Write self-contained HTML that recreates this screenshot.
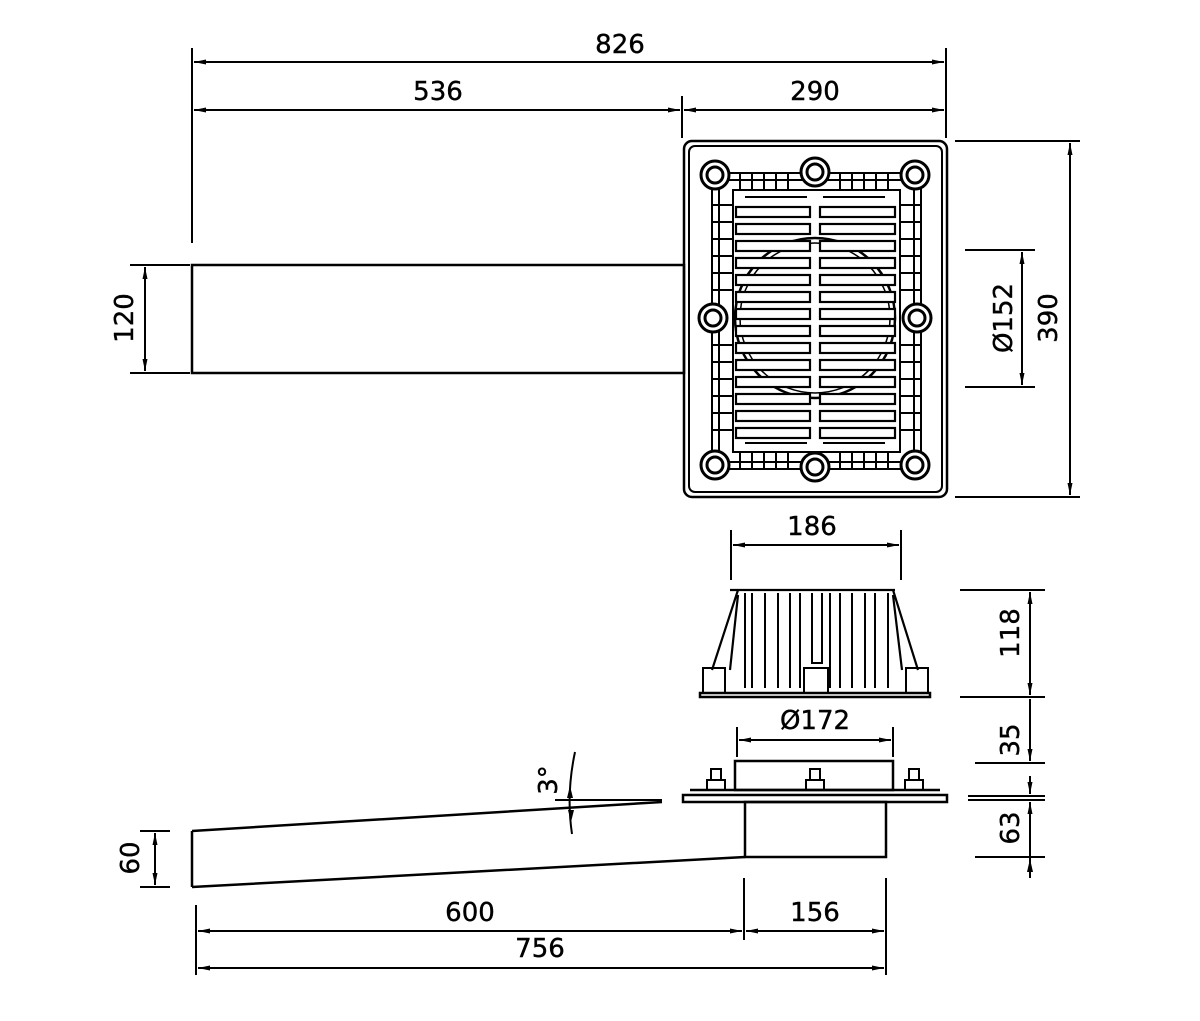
<!DOCTYPE html>
<html><head><style>html,body{margin:0;padding:0;background:#fff}svg{display:block}</style></head><body>
<svg width="1200" height="1021" viewBox="0 0 1200 1021" xmlns="http://www.w3.org/2000/svg" font-family="DejaVu Sans, Liberation Sans, sans-serif" font-size="26" fill="none" stroke="#000">
<defs>
<marker id="a" viewBox="0 0 12 6" refX="12" refY="3" markerWidth="12" markerHeight="6" orient="auto-start-reverse" markerUnits="userSpaceOnUse"><path d="M0,0.5 L12,3 L0,5.5 z" fill="#000" stroke="none"/></marker>
</defs>
<g stroke-width="2">
<line x1="192" y1="48" x2="192" y2="243"/>
<line x1="946" y1="48" x2="946" y2="138"/>
<line x1="682" y1="96" x2="682" y2="138"/>
<line x1="194" y1="62" x2="944" y2="62" marker-start="url(#a)" marker-end="url(#a)"/>
<line x1="194" y1="110" x2="680" y2="110" marker-start="url(#a)" marker-end="url(#a)"/>
<line x1="684" y1="110" x2="944" y2="110" marker-start="url(#a)" marker-end="url(#a)"/>
<line x1="130" y1="265" x2="190" y2="265"/><line x1="130" y1="373" x2="190" y2="373"/>
<line x1="145" y1="267" x2="145" y2="371" marker-start="url(#a)" marker-end="url(#a)"/>
<line x1="955" y1="141" x2="1080" y2="141"/><line x1="955" y1="497" x2="1080" y2="497"/>
<line x1="1070" y1="143" x2="1070" y2="495" marker-start="url(#a)" marker-end="url(#a)"/>
<line x1="965" y1="250" x2="1035" y2="250"/><line x1="965" y1="387" x2="1035" y2="387"/>
<line x1="1022" y1="252" x2="1022" y2="385" marker-start="url(#a)" marker-end="url(#a)"/>
</g>
<rect x="192" y="265" width="492" height="108" stroke-width="2.5"/>
<rect x="684" y="141" width="263" height="356" rx="8" stroke-width="2.5"/>
<rect x="689" y="146" width="253" height="346" rx="6" stroke-width="2"/>
<g stroke-width="2">
<rect x="712" y="173" width="209" height="296"/>
<rect x="733" y="190" width="167" height="262"/>
<line x1="719" y1="173" x2="719" y2="469"/><line x1="914" y1="173" x2="914" y2="469"/>
<line x1="712" y1="180" x2="921" y2="180"/><line x1="712" y1="462" x2="921" y2="462"/>
<path d="M740 173v17M752 173v17M764 173v17M776 173v17M788 173v17M840 173v17M852 173v17M864 173v17M876 173v17M888 173v17M740 452v17M752 452v17M764 452v17M776 452v17M788 452v17M840 452v17M852 452v17M864 452v17M876 452v17M888 452v17"/>
<path d="M712 205h21M712 222h21M712 239h21M712 256h21M712 273h21M712 290h21M712 345h21M712 362h21M712 379h21M712 396h21M712 413h21M712 430h21M900 205h21M900 222h21M900 239h21M900 256h21M900 273h21M900 290h21M900 345h21M900 362h21M900 379h21M900 396h21M900 413h21M900 430h21"/>
<circle cx="815" cy="318" r="80" stroke-width="2.5"/>
<circle cx="815" cy="318" r="75" stroke-width="1.5"/>
<g fill="#fff" stroke-width="2.2">
<rect x="736" y="207" width="74" height="10"/><rect x="820" y="207" width="75" height="10"/>
<rect x="736" y="224" width="74" height="10"/><rect x="820" y="224" width="75" height="10"/>
<rect x="736" y="241" width="74" height="10"/><rect x="820" y="241" width="75" height="10"/>
<rect x="736" y="258" width="74" height="10"/><rect x="820" y="258" width="75" height="10"/>
<rect x="736" y="275" width="74" height="10"/><rect x="820" y="275" width="75" height="10"/>
<rect x="736" y="292" width="74" height="10"/><rect x="820" y="292" width="75" height="10"/>
<rect x="736" y="309" width="74" height="10"/><rect x="820" y="309" width="75" height="10"/>
<rect x="736" y="326" width="74" height="10"/><rect x="820" y="326" width="75" height="10"/>
<rect x="736" y="343" width="74" height="10"/><rect x="820" y="343" width="75" height="10"/>
<rect x="736" y="360" width="74" height="10"/><rect x="820" y="360" width="75" height="10"/>
<rect x="736" y="377" width="74" height="10"/><rect x="820" y="377" width="75" height="10"/>
<rect x="736" y="394" width="74" height="10"/><rect x="820" y="394" width="75" height="10"/>
<rect x="736" y="411" width="74" height="10"/><rect x="820" y="411" width="75" height="10"/>
<rect x="736" y="428" width="74" height="10"/><rect x="820" y="428" width="75" height="10"/>
</g>
<path d="M745 197h62M823 197h62M745 443h62M823 443h62"/>
<g fill="#fff" stroke-width="3">
<circle cx="715" cy="175" r="14"/><circle cx="815" cy="172" r="14"/><circle cx="915" cy="175" r="14"/>
<circle cx="713" cy="318" r="14"/><circle cx="917" cy="318" r="14"/>
<circle cx="715" cy="465" r="14"/><circle cx="815" cy="467" r="14"/><circle cx="915" cy="465" r="14"/>
</g>
<g stroke-width="3">
<circle cx="715" cy="175" r="8"/><circle cx="815" cy="172" r="8"/><circle cx="915" cy="175" r="8"/>
<circle cx="713" cy="318" r="8"/><circle cx="917" cy="318" r="8"/>
<circle cx="715" cy="465" r="8"/><circle cx="815" cy="467" r="8"/><circle cx="915" cy="465" r="8"/>
</g>
</g>
<g stroke-width="2">
<line x1="731" y1="530" x2="731" y2="580"/><line x1="901" y1="530" x2="901" y2="580"/>
<line x1="733" y1="545" x2="899" y2="545" marker-start="url(#a)" marker-end="url(#a)"/>
<path d="M730 590h165M738 590L712 670M893 590L918 670M738 595L730 670M893 595L902 670" stroke-width="2.2"/>
<path d="M745 593v95M752 593v95M765 593v95M778 593v95M790 593v95M800 593v95M830 593v95M840 593v95M852 593v95M865 593v95M875 593v95M888 593v95"/>
<path d="M812 593v70h10v-70"/>
<rect x="703" y="668" width="22" height="25"/><rect x="804" y="668" width="24" height="25"/><rect x="906" y="668" width="22" height="25"/>
<path d="M700 693h230v4h-230z" stroke-width="2.5"/>
<line x1="960" y1="590" x2="1045" y2="590"/><line x1="960" y1="697" x2="1045" y2="697"/>
<line x1="1030" y1="592" x2="1030" y2="695" marker-start="url(#a)" marker-end="url(#a)"/>
<line x1="975" y1="763" x2="1045" y2="763"/><line x1="968" y1="796" x2="1045" y2="796"/><line x1="968" y1="800" x2="1045" y2="800"/><line x1="975" y1="857" x2="1045" y2="857"/>
<line x1="1030" y1="699" x2="1030" y2="761" marker-end="url(#a)"/>
<line x1="1030" y1="776" x2="1030" y2="794" marker-end="url(#a)"/>
<line x1="1030" y1="802" x2="1030" y2="820" marker-start="url(#a)"/>
<line x1="1030" y1="820" x2="1030" y2="878"/>
<path d="M1030 859l-3 13h6z" fill="#000" stroke="none"/>
<line x1="737" y1="727" x2="737" y2="757"/><line x1="893" y1="727" x2="893" y2="757"/>
<line x1="739" y1="740" x2="891" y2="740" marker-start="url(#a)" marker-end="url(#a)"/>
</g>
<g stroke-width="2.5">
<rect x="735" y="761" width="158" height="29"/>
<path d="M683 795h264v7h-264z"/><path d="M690 790h250"/>
<rect x="745" y="802" width="141" height="55"/>
<path d="M192 831L662 802M192 887L745 857M192 831V887"/>
</g>
<g stroke-width="2">
<rect x="711" y="769" width="10" height="11"/><rect x="707" y="780" width="18" height="10"/>
<rect x="810" y="769" width="10" height="11"/><rect x="806" y="780" width="18" height="10"/>
<rect x="909" y="769" width="10" height="11"/><rect x="905" y="780" width="18" height="10"/>
<line x1="555" y1="800" x2="662" y2="800"/>
<path d="M575 752Q566 794 572 834"/>
<path d="M570 786l-3 12h6z M571 822l-3-12h6z" fill="#000" stroke="none"/>
<line x1="140" y1="831" x2="170" y2="831"/><line x1="140" y1="887" x2="170" y2="887"/>
<line x1="155" y1="833" x2="155" y2="885" marker-start="url(#a)" marker-end="url(#a)"/>
<line x1="196" y1="905" x2="196" y2="975"/><line x1="744" y1="878" x2="744" y2="940"/><line x1="886" y1="878" x2="886" y2="975"/>
<line x1="198" y1="931" x2="742" y2="931" marker-start="url(#a)" marker-end="url(#a)"/>
<line x1="746" y1="931" x2="884" y2="931" marker-start="url(#a)" marker-end="url(#a)"/>
<line x1="198" y1="968" x2="884" y2="968" marker-start="url(#a)" marker-end="url(#a)"/>
</g>
<g fill="#000" stroke="#000" stroke-width="0.4" text-anchor="middle">
<text x="620" y="53">826</text>
<text x="438" y="100">536</text>
<text x="815" y="100">290</text>
<text x="812" y="535">186</text>
<text x="470" y="921">600</text>
<text x="815" y="921">156</text>
<text x="540" y="957">756</text>
<text x="815" y="729">Ø172</text>
<text transform="translate(133,318) rotate(-90)">120</text>
<text transform="translate(1057,318) rotate(-90)">390</text>
<text transform="translate(1012,318) rotate(-90)">Ø152</text>
<text transform="translate(1019,633) rotate(-90)">118</text>
<text transform="translate(1019,740) rotate(-90)">35</text>
<text transform="translate(1019,828) rotate(-90)">63</text>
<text transform="translate(139,858) rotate(-90)">60</text>
<text transform="translate(557,780) rotate(-90)">3°</text>
</g>
</svg>
</body></html>
